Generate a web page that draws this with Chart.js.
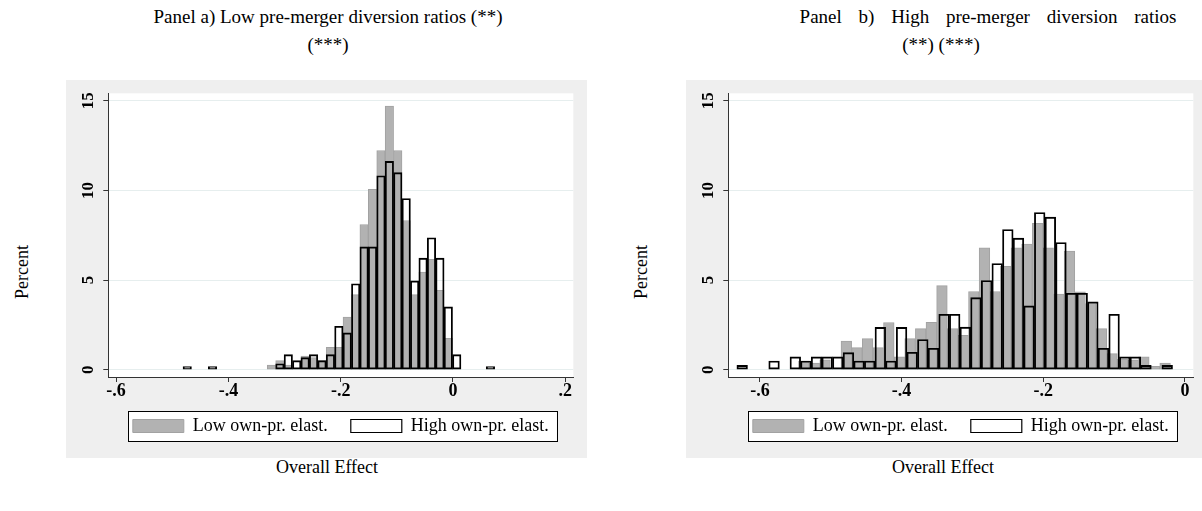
<!DOCTYPE html>
<html lang="en">
<head>
  <meta charset="UTF-8" />
  <title>Overall Effect histograms</title>
  <script src="https://cdn.jsdelivr.net/npm/chart.js"></script>
  <style>
    body {
      margin: 0;
      width: 1202px;
      height: 511px;
      overflow: hidden;
      position: relative;
      background: #ffffff;
      font-family: 'Liberation Serif', 'DejaVu Serif', serif;
      color: #000;
    }

    .txt {
      position: absolute;
      transform: translate(-50%, -50%);
      white-space: nowrap;
      font-size: 19px;
    }

    .axis-title {
      font-size: 18px;
    }

    .rot {
      transform: translate(-50%, -50%) rotate(-90deg);
    }

    .panel {
      position: absolute;
      top: 80px;
      width: 521px;
      height: 378px;
      background: #efefef;
    }
  </style>
</head>
<body>
  <!-- titles and axis titles -->
  <div class="txt" style="left:328px; top:17px;">Panel a) Low pre-merger diversion ratios (**)</div>
  <div class="txt" style="left:328px; top:45px;">(***)</div>
  <div class="txt" style="left:988px; top:17px; word-spacing:12px;">Panel b) High pre-merger diversion ratios</div>
  <div class="txt" style="left:941px; top:45px;">(**) (***)</div>

  <div class="txt axis-title rot" style="left:22px; top:272px;">Percent</div>
  <div class="txt axis-title rot" style="left:641px; top:272px;">Percent</div>
  <div class="txt axis-title" style="left:327px; top:467px;">Overall Effect</div>
  <div class="txt axis-title" style="left:943px; top:467px;">Overall Effect</div>

  <div class="panel" style="left:66px;"><canvas id="chartA"></canvas></div>
  <div class="panel" style="left:686px;"><canvas id="chartB"></canvas></div>

  <script>
    // ---- data (percent of observations per bin, bin centres on the x axis) ----
    const binsA = [-0.4733, -0.4583, -0.4433, -0.4283, -0.4133, -0.3983, -0.3833, -0.3683, -0.3533, -0.3383,
                   -0.3233, -0.3083, -0.2933, -0.2783, -0.2633, -0.2483, -0.2333, -0.2183, -0.2033, -0.1883,
                   -0.1733, -0.1583, -0.1433, -0.1283, -0.1133, -0.0983, -0.0833, -0.0683, -0.0533, -0.0383,
                   -0.0233, -0.0083, 0.0067, 0.0217, 0.0367, 0.0517, 0.0667];
    const lowA = [null, null, null, null, null, null, null, null, null, null,
                  0.26, 0.5, 0.26, null, 0.76, 0.67, 0.5, 1.25, 1.25, 2.94,
                  4.19, 8.1, 10.06, 12.23, 14.71, 12.23, 8.32, 4.19, 5.44, 6.15,
                  4.43, 1.75, null, null, null, null, null];
    const highA = [0.17, null, null, 0.17, null, null, null, null, null, null,
                   null, 0.33, 0.84, 0.5, 0.67, 0.84, 0.5, 0.84, 2.42, 2.05,
                   4.79, 6.85, 6.85, 10.82, 11.62, 10.99, 9.55, 4.95, 6.22, 7.36,
                   6.22, 3.5, 0.84, null, null, null, 0.17];

    const lowBinsB = [-0.538, -0.523, -0.508, -0.493, -0.478, -0.463, -0.448, -0.433, -0.418, -0.403,
                      -0.388, -0.373, -0.358, -0.343, -0.328, -0.313, -0.298, -0.283, -0.268, -0.253,
                      -0.238, -0.223, -0.208, -0.193, -0.178, -0.163, -0.148, -0.133, -0.118, -0.103,
                      -0.088, -0.073, -0.058, -0.043, -0.028];
    const lowB = [0.48, 0.37, 0.55, null, 1.6, 1.23, 1.73, 1.23, 2.63, 0.71,
                  1.73, 2.29, 2.64, 4.69, 2.29, 1.92, 4.36, 6.8, 4.36, 5.77,
                  6.8, 7.0, 8.16, 6.8, 4.21, 6.61, 4.34, 3.69, 2.29, 0.89,
                  0.58, 0.55, 0.71, 0.19, 0.37];
    const highBinsB = [-0.625, -0.61, -0.595, -0.58, -0.565, -0.55, -0.535, -0.52, -0.505, -0.49,
                       -0.475, -0.46, -0.445, -0.43, -0.415, -0.4, -0.385, -0.37, -0.355, -0.34,
                       -0.325, -0.31, -0.295, -0.28, -0.265, -0.25, -0.235, -0.22, -0.205, -0.19,
                       -0.175, -0.16, -0.145, -0.13, -0.115, -0.1, -0.085, -0.07, -0.055, -0.04,
                       -0.025];
    const highB = [0.24, null, null, 0.48, null, 0.71, 0.48, 0.71, 0.71, 0.71,
                   0.95, 0.48, 0.48, 2.36, 0.48, 2.36, 0.97, 1.68, 1.19, 3.09,
                   3.09, 2.37, 4.02, 4.97, 5.92, 7.82, 7.34, 3.56, 8.77, 8.51,
                   7.09, 4.26, 4.26, 3.78, 1.19, 3.09, 0.71, 0.71, 0.24, null,
                   0.24];

    const seriesNames = ['Low own-pr. elast.', 'High own-pr. elast.'];
    const yTicks = [0, 5, 10, 15];
    const yTickLabels = ['0', '5', '10', '15'];
    const xTicksA = [-0.6, -0.4, -0.2, 0, 0.2];
    const xLabelsA = ['-.6', '-.4', '-.2', '0', '.2'];
    const xTicksB = [-0.6, -0.4, -0.2, 0];
    const xLabelsB = ['-.6', '-.4', '-.2', '0'];
    const xRangeA = [-0.6139, 0.2143];
    const xRangeB = [-0.6446, 0.0118];
    const yRange = [-0.41, 15.42];

    const FONT = "'Liberation Serif', 'DejaVu Serif', serif";

    // white plot region + framed white legend box, drawn before everything else
    const backdrop = {
      id: 'backdrop',
      beforeDraw(chart) {
        const { ctx, chartArea } = chart;
        ctx.save();
        ctx.fillStyle = '#ffffff';
        ctx.fillRect(chartArea.left, chartArea.top, chartArea.right - chartArea.left, chartArea.bottom - chartArea.top);
        const hb = chart.legend.legendHitBoxes;
        if (hb && hb.length) {
          const l = hb[0].left - 5;
          const r = hb[hb.length - 1].left + hb[hb.length - 1].width + 8;
          const mid = hb[0].top + hb[0].height / 2;
          ctx.fillRect(l, mid - 15, r - l, 30);
          ctx.strokeStyle = '#000';
          ctx.lineWidth = 1;
          ctx.strokeRect(Math.round(l) + 0.5, Math.round(mid - 15) + 0.5, Math.round(r - l), 30);
        }
        ctx.restore();
      }
    };

    // tick labels drawn at the scale positions: vertical on y (Stata style), plain on x
    const tickLabels = {
      id: 'tickLabels',
      afterDraw(chart, args, opts) {
        const { ctx, chartArea } = chart;
        const y = chart.scales.y;
        const x = chart.scales.x;
        ctx.save();
        ctx.fillStyle = '#000';
        ctx.textAlign = 'center';
        ctx.textBaseline = 'middle';
        ctx.font = 'bold 17px ' + FONT;
        yTicks.forEach((v, i) => {
          ctx.save();
          ctx.translate(chartArea.left - 20, y.getPixelForValue(v));
          ctx.rotate(-Math.PI / 2);
          ctx.fillText(yTickLabels[i], 0, 0);
          ctx.restore();
        });
        ctx.font = 'bold 18px ' + FONT;
        opts.ticks.forEach((v, i) => {
          ctx.fillText(opts.labels[i], x.getPixelForValue(v), chartArea.bottom + 14);
        });
        ctx.restore();
      }
    };

    function makePanel(canvasId, lowBins, low, highBins, high, xRange, xTicks, xLabels) {
      const toPts = (xs, ys) => xs.map((x, i) => ({ x: x, y: ys[i] }));
      const barCommon = { barPercentage: 1, categoryPercentage: 1, grouped: false, borderSkipped: false };

      return new Chart(document.getElementById(canvasId), {
        type: 'bar',
        data: {
          datasets: [
            Object.assign({
              label: seriesNames[0],
              data: toPts(lowBins, low),
              xAxisID: 'x',
              backgroundColor: '#b2b2b2',
              borderColor: '#a2a2a2',
              borderWidth: 1,
              order: 2
            }, barCommon),
            Object.assign({
              label: seriesNames[1],
              data: toPts(highBins, high),
              xAxisID: 'x2',
              backgroundColor: 'rgba(0,0,0,0)',
              borderColor: '#000000',
              borderWidth: 1.2,
              order: 1
            }, barCommon)
          ]
        },
        options: {
          responsive: true,
          maintainAspectRatio: false,
          animation: false,
          layout: { padding: { left: 0, right: 13.7, top: 13.3, bottom: 13 } },
          plugins: {
            tooltip: { enabled: false },
            tickLabels: { ticks: xTicks, labels: xLabels },
            legend: {
              position: 'bottom',
              fullSize: false,
              labels: {
                boxWidth: 51,
                boxHeight: 13,
                padding: 23,
                color: '#000',
                font: { family: FONT, size: 18 },
                sort: (a, b) => a.datasetIndex - b.datasetIndex
              }
            }
          },
          scales: {
            x: {
              type: 'linear',
              position: 'bottom',
              offset: false,
              min: xRange[0],
              max: xRange[1],
              afterBuildTicks: s => { s.ticks = xTicks.map(v => ({ value: v })); },
              afterFit: s => { s.height = 17; },
              ticks: { display: false },
              grid: { offset: false, drawOnChartArea: false, drawTicks: true, tickLength: 5, tickColor: '#333' },
              border: { display: true, color: '#333', width: 1 }
            },
            x2: {
              type: 'linear',
              display: false,
              offset: false,
              min: xRange[0],
              max: xRange[1]
            },
            y: {
              min: yRange[0],
              max: yRange[1],
              afterBuildTicks: s => { s.ticks = yTicks.map(v => ({ value: v })); },
              afterFit: s => { s.width = 42.3; },
              ticks: { display: false },
              grid: { color: '#e6eeee', drawTicks: true, tickLength: 5, tickColor: '#333' },
              border: { display: true, color: '#333', width: 1 }
            }
          }
        },
        plugins: [backdrop, tickLabels]
      });
    }

    makePanel('chartA', binsA, lowA, binsA, highA, xRangeA, xTicksA, xLabelsA);
    makePanel('chartB', lowBinsB, lowB, highBinsB, highB, xRangeB, xTicksB, xLabelsB);
  </script>
</body>
</html>
